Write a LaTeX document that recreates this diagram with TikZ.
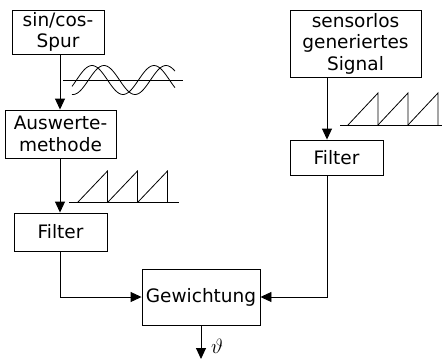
\documentclass[tikz,border=0pt]{standalone}
\usepackage{fontspec}
\setmainfont{DejaVu Sans}
\usetikzlibrary{arrows.meta, positioning}

\begin{document}
\begin{tikzpicture}[
    x=1pt, y=-1pt,
    box/.style={rectangle, draw, line width=0.9pt, inner sep=0pt, align=center, font=\fontsize{18.5}{21.5}\selectfont},
    arrow/.style={-{Triangle[length=11pt, width=10pt]}, line width=0.9pt},
    signal/.style={line width=0.8pt}
]
\useasboundingbox (0,0) rectangle (442,360);

\node[box, minimum width=92pt, minimum height=44pt] (spur) at (58,32) {sin/cos-\\Spur};
\node[box, minimum width=111pt, minimum height=48pt] (ausw) at (60.5,134) {Auswerte-\\methode};
\node[box, minimum width=93pt, minimum height=38pt] (filtera) at (60.5,232) {Filter};
\node[box, minimum width=131pt, minimum height=67pt] (sensor) at (355.5,43.5) {sensorlos\\generiertes\\Signal};
\node[box, minimum width=93pt, minimum height=35pt] (filterb) at (336.5,157.5) {Filter};
\node[box, minimum width=118pt, minimum height=56pt] (gew) at (201,297) {Gewichtung};
\node[font=\fontsize{22}{24}\selectfont, inner sep=0pt] (theta) at (217,346.5) {$\vartheta$};

\coordinate (lx) at (60,0);
\coordinate (rx) at (327,0);
\coordinate (out) at (201,359);

\draw[arrow] (spur.south -| lx) -- (ausw.north -| lx);
\draw[arrow] (ausw.south -| lx) -- (filtera.north -| lx);
\draw[arrow] (filtera.south -| lx) |- (gew.west);
\draw[arrow] (sensor.south -| rx) -- (filterb.north -| rx);
\draw[arrow] (filterb.south -| rx) |- (gew.east);
\draw[arrow] (gew.south) -- (out);

% sin/cos signals
\draw[signal] (63,80) -- (183,80);
\draw[signal] plot[domain=72:175, samples=60, smooth] (\x, {80-14.5*sin((\x-76.5)*5.80645)});
\draw[signal] plot[domain=72:175, samples=60, smooth] (\x, {80-14.5*sin((\x-88.5)*5.80645)});

% sawtooth signals
\draw[signal] (69,202) -- (179,202);
\foreach \s in {78,108,138}
    \draw[signal] (\s,202) -- ++(29.5,-31) -- ++(0,31);
\draw[signal] (340,125) -- (442,125);
\foreach \s in {348,378,408}
    \draw[signal] (\s,125) -- ++(30,-32) -- ++(0,32);
\end{tikzpicture}
\end{document}
